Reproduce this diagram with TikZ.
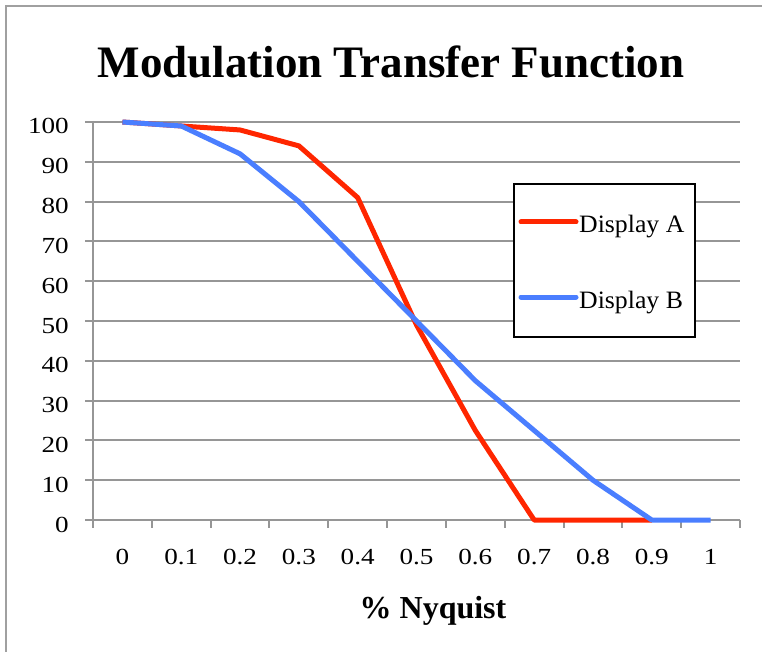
\documentclass[tikz,border=0pt]{standalone}
\usepackage{fontspec}
\setmainfont{Liberation Serif}
\newfontfamily\tickfont[FakeStretch=1.18]{Liberation Serif}
\newfontfamily\legfont[FakeStretch=1.03]{Liberation Serif}
\definecolor{gridc}{RGB}{150,150,150}
\definecolor{framec}{RGB}{160,160,160}
\definecolor{redA}{RGB}{255,38,0}
\definecolor{blueB}{RGB}{74,126,255}
\begin{document}
\begin{tikzpicture}[x=1pt,y=-1pt,
  gridline/.style={draw=gridc, line width=2pt},
  series/.style={line width=5pt, line join=round},
  ticklab/.style={font=\tickfont\fontsize{23}{23}\selectfont, inner sep=0pt},
  leglab/.style={font=\legfont\fontsize{25}{25}\selectfont, inner sep=0pt, anchor=base west}]
\useasboundingbox (0,0) rectangle (762,652);
% outer frame
\draw[draw=framec, line width=2pt] (6,652) -- (6,6) -- (762,6);
% title
\node[font=\bfseries\fontsize{45}{45}\selectfont, anchor=base, inner sep=0pt] (title) at (391,78) {Modulation Transfer Function};
% horizontal grid lines and y labels
\foreach \v in {0,10,...,100}{
  \draw[gridline] (85,{520-\v*3.98}) -- (740,{520-\v*3.98});
  \node[ticklab, anchor=base east] (y\v) at (69,{520-\v*3.98+12}) {\v};
}
% y axis
\draw[gridline] (93,121) -- (93,521);
% x ticks
\foreach \k in {0,...,11}{
  \draw[gridline] ({93+\k*58.82},520) -- ({93+\k*58.82},528);
}
% x labels
\foreach \lab [count=\i from 0] in {0,0.1,0.2,0.3,0.4,0.5,0.6,0.7,0.8,0.9,1}{
  \node[ticklab, anchor=base] (x\i) at ({93+(\i+0.5)*58.82},564.5) {\lab};
}
% axis title
\node[font=\bfseries\fontsize{32}{32}\selectfont, anchor=base, inner sep=0pt] (xtitle) at (433,618) {\% Nyquist};
% series
\draw[series, redA] plot coordinates {
  ({93+0.5*58.82},{520-100*3.98})
  ({93+1.5*58.82},{520-99*3.98})
  ({93+2.5*58.82},{520-98*3.98})
  ({93+3.5*58.82},{520-94*3.98})
  ({93+4.5*58.82},{520-81*3.98})
  ({93+5.5*58.82},{520-49*3.98})
  ({93+6.5*58.82},{520-22.5*3.98})
  ({93+7.5*58.82},{520-0*3.98})
  ({93+8.5*58.82},{520-0*3.98})
  ({93+9.5*58.82},{520-0*3.98})
};
\draw[series, blueB] plot coordinates {
  ({93+0.5*58.82},{520-100*3.98})
  ({93+1.5*58.82},{520-99*3.98})
  ({93+2.5*58.82},{520-92*3.98})
  ({93+3.5*58.82},{520-80*3.98})
  ({93+4.5*58.82},{520-65*3.98})
  ({93+5.5*58.82},{520-50*3.98})
  ({93+6.5*58.82},{520-35*3.98})
  ({93+7.5*58.82},{520-22.5*3.98})
  ({93+8.5*58.82},{520-10*3.98})
  ({93+9.5*58.82},{520-0*3.98})
  ({93+10.5*58.82},{520-0*3.98})
};
% legend
\node[draw=black, line width=2pt, fill=white, minimum width=181, minimum height=153, anchor=north west, inner sep=0pt] (legend) at (513,183) {};
\coordinate (la1) at (521,222);
\coordinate (la2) at (576,222);
\coordinate (lb1) at (521,297);
\coordinate (lb2) at (576,297);
\draw[line width=5pt, line cap=round, redA] (la1) -- (la2);
\draw[line width=5pt, line cap=round, blueB] (lb1) -- (lb2);
\node[leglab] (legA) at (579,233) {Display A};
\node[leglab] (legB) at (579,308) {Display B};
\end{tikzpicture}
\end{document}
